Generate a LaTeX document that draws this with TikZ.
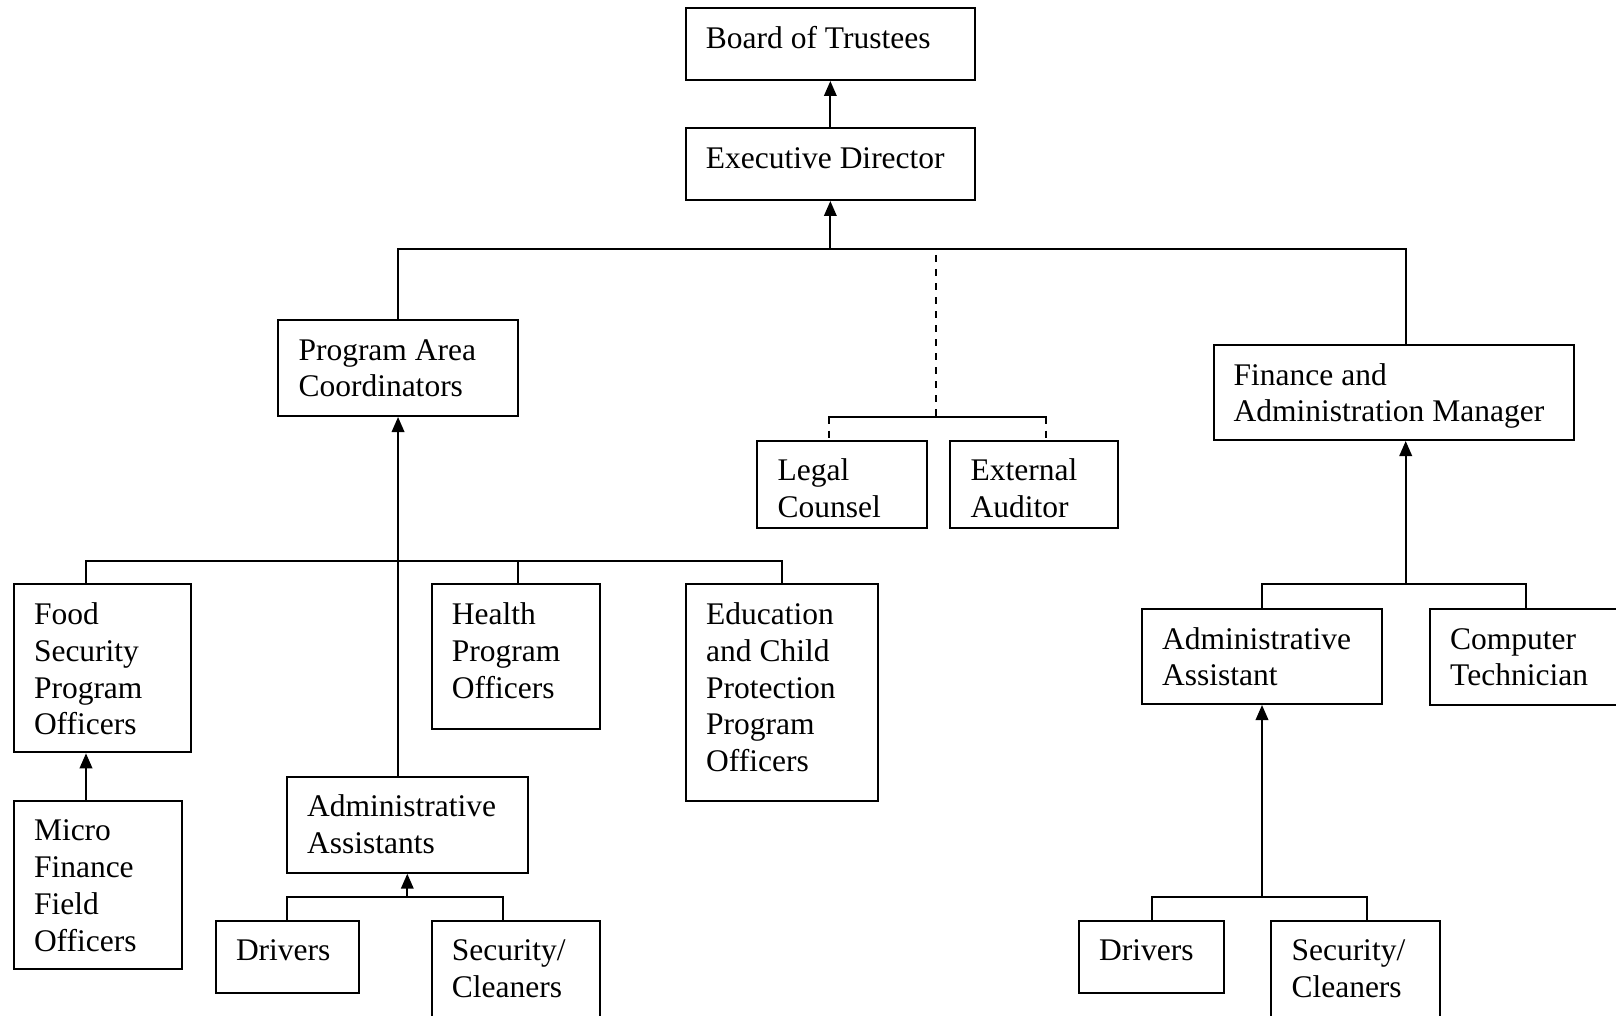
\documentclass[tikz,border=0pt]{standalone}
\usepackage{fontspec}
\setmainfont{Liberation Serif}
\usetikzlibrary{arrows.meta}
\tikzset{
  orgbox/.style={draw, line width=2pt, rectangle, inner sep=0pt, outer sep=0pt, anchor=north west},
  boxtext/.style={inner sep=0pt, align=left, anchor=north west, font=\fontsize{31.5}{36.8}\selectfont},
  conn/.style={line width=2pt, line cap=rect},
  dconn/.style={line width=2pt, dash pattern=on 7pt off 7pt},
  arr/.style={line width=2pt, -{Triangle[length=15pt,width=12.5pt]}, shorten >=1pt}
}
\newcommand{\orgnode}[6]{%
  \node[orgbox, minimum width=#4pt, minimum height=#5pt] (#1) at (#2,#3) {};
  \node[boxtext] (#1t) at ([xshift=20pt,yshift=-14.2pt]#1.north west) {#6};}
\begin{document}
\begin{tikzpicture}[x=1pt,y=-1pt]
\useasboundingbox (0,0) rectangle (1616,1016);
\clip (0,0) rectangle (1616,1016);
\fill[white] (0,0) rectangle (1616,1016);

\orgnode{board}{685.7}{8.3}{289.3}{71.7}{\strut Board of Trustees}
\orgnode{exec}{685.7}{128.3}{289.3}{71.7}{\strut Executive Director}
\orgnode{pac}{278.3}{320}{239.5}{96}{\strut Program Area\\Coordinators}
\orgnode{legal}{757.4}{440.7}{169.4}{87.6}{\strut Legal\\Counsel}
\orgnode{ext}{950.4}{440.7}{167.9}{87.6}{\strut External\\Auditor}
\orgnode{fam}{1213.5}{345}{360.5}{95}{\strut Finance and\\Administration Manager}
\orgnode{food}{13.8}{584.3}{177.4}{168}{\strut Food\\Security\\Program\\Officers}
\orgnode{micro}{13.8}{800.7}{168.2}{168.6}{\strut Micro\\Finance\\Field\\Officers}
\orgnode{health}{431.7}{584.3}{168.2}{144.4}{\strut Health\\Program\\Officers}
\orgnode{edu}{686}{584.3}{192.3}{216.4}{\strut Education\\and Child\\Protection\\Program\\Officers}
\orgnode{aas}{287}{776.7}{240.6}{96}{\strut Administrative\\Assistants}
\orgnode{drvA}{215.8}{920.7}{143.6}{72}{\strut Drivers}
\orgnode{secA}{431.7}{920.7}{168.2}{130}{\strut Security/\\Cleaners}
\orgnode{aab}{1142}{609}{240}{95}{\strut Administrative\\Assistant}
\orgnode{ct}{1430}{609}{230}{96}{\strut Computer\\Technician}
\orgnode{drvB}{1079}{920.7}{144.7}{72}{\strut Drivers}
\orgnode{secB}{1271.3}{920.7}{168.7}{130}{\strut Security/\\Cleaners}

% top
\draw[arr] (exec.north) -- (board.south);
\coordinate (busL) at (397.5,249);
\coordinate (busR) at (1405.7,249);
\draw[conn] (busL) -- (busR);
\draw[arr] (exec.south |- busL) -- (exec.south);
\draw[conn] (busL) -- (busL |- pac.north);
\draw[conn] (busR) -- (busR |- fam.north);

% dashed advisory
\coordinate (dtop) at (935.7,255);
\coordinate (dmid) at (935.7,416.7);
\coordinate (dl) at (829,416.7);
\coordinate (dr) at (1046,416.7);
\draw[dconn] (dtop) -- (dmid);
\draw[conn] (dl) -- (dr);
\draw[dconn] (dl) -- (dl |- legal.north);
\draw[dconn] (dr) -- (dr |- ext.north);

% program side
\coordinate (sbL) at (86,560.7);
\coordinate (sbH) at (518.4,560.7);
\coordinate (sbR) at (781.9,560.7);
\draw[conn] (sbL) -- (sbR);
\draw[conn] (sbL) -- (sbL |- food.north);
\draw[conn] (sbH) -- (sbH |- health.north);
\draw[conn] (sbR) -- (sbR |- edu.north);
\draw[arr] (pac.south |- aas.north) -- (pac.south);
\draw[arr] (sbL |- micro.north) -- (sbL |- food.south);
\coordinate (abL) at (287,896.7);
\coordinate (abR) at (503.4,896.7);
\draw[conn] (abL) -- (abR);
\draw[conn] (abL) -- (abL |- drvA.north);
\draw[conn] (abR) -- (abR |- secA.north);
\draw[arr] (aas.south |- abL) -- (aas.south);

% finance side
\coordinate (fbL) at (1262,584.3);
\coordinate (fbM) at (1405.7,584.3);
\coordinate (fbR) at (1525.6,584.3);
\draw[conn] (fbL) -- (fbR);
\draw[conn] (fbL) -- (fbL |- aab.north);
\draw[conn] (fbR) -- (fbR |- ct.north);
\draw[arr] (fbM) -- (fbM |- fam.south);
\coordinate (rbL) at (1151.7,896.7);
\coordinate (rbR) at (1367.3,896.7);
\draw[conn] (rbL) -- (rbR);
\draw[conn] (rbL) -- (rbL |- drvB.north);
\draw[conn] (rbR) -- (rbR |- secB.north);
\draw[arr] (aab.south |- rbL) -- (aab.south);
\end{tikzpicture}
\end{document}
